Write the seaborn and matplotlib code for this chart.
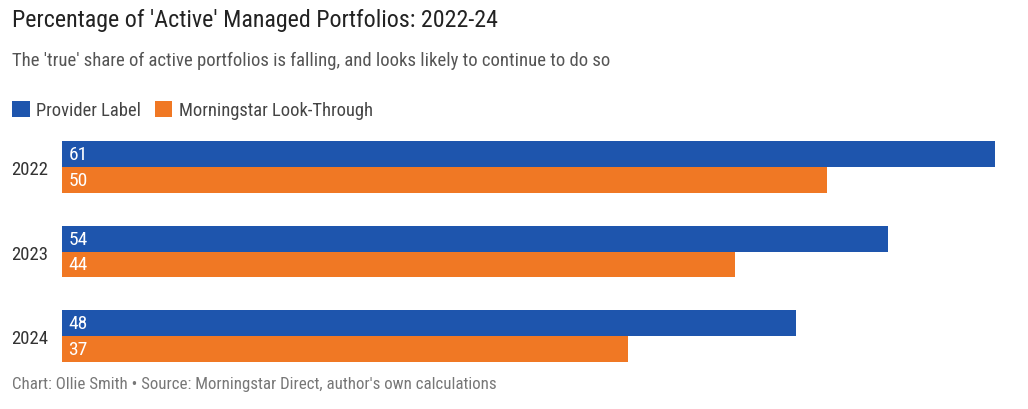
import pandas as pd
import matplotlib.pyplot as plt
import seaborn as sns

# Chart values
years = ['2022', '2023', '2024']
provider_label = [61, 54, 48]
look_through = [50, 44, 37]
series_names = ['Provider Label', 'Morningstar Look-Through']
colors = ['#1E55AD', '#F07824']

df = pd.DataFrame({
    'year': years * 2,
    'share': provider_label + look_through,
    'series': [series_names[0]] * 3 + [series_names[1]] * 3,
})

sns.set_style('white')
plt.rcParams['font.family'] = ['Roboto Condensed', 'DejaVu Sans']
plt.rcParams['font.stretch'] = 'condensed'

fig = plt.figure(figsize=(10.28, 4.10), dpi=100)
ax = fig.add_axes([62 / 1028, 1 - 379 / 410, (995 - 62) / 1028, (379 - 126) / 410])

sns.barplot(data=df, y='year', x='share', hue='series', palette=colors,
            orient='h', width=0.615, saturation=1, linewidth=0, ax=ax)

ax.set_xlim(0, max(provider_label))
ax.set_ylim(2.5, -0.5)
ax.set_xlabel('')
ax.set_ylabel('')
ax.set_xticks([])
sns.despine(ax=ax, left=True, bottom=True)
ax.tick_params(axis='y', length=0, pad=10, labelsize=13.5, labelcolor='#333333')

# Value labels inside each bar, at its left end
for container in ax.containers:
    for p in container:
        ax.annotate(f"{p.get_width():.0f}", xy=(p.get_x(), p.get_y() + p.get_height() / 2),
                    xytext=(4.5, 0), textcoords='offset points', ha='left', va='center',
                    color='white', fontsize=14)

handles, labels = ax.get_legend_handles_labels()
ax.legend_.remove()
fig.legend(handles, labels, loc='center left', bbox_to_anchor=(12 / 1028, 1 - 111 / 410),
           ncol=2, frameon=False, fontsize=13.3, handlelength=0.95, handleheight=0.95,
           handletextpad=0.35, columnspacing=0.75, borderpad=0, borderaxespad=0,
           labelcolor='#444444')

fig.text(12 / 1028, 1 - 21 / 410, "Percentage of 'Active' Managed Portfolios: 2022-24",
         fontsize=17.3, color='#222222', va='center', ha='left')
fig.text(12 / 1028, 1 - 61 / 410,
         "The 'true' share of active portfolios is falling, and looks likely to continue to do so",
         fontsize=13.5, color='#555555', va='center', ha='left')
fig.text(12 / 1028, 1 - 385 / 410,
         "Chart: Ollie Smith \u2022 Source: Morningstar Direct, author's own calculations",
         fontsize=12.2, color='#777777', va='center', ha='left')

fig.savefig('out.png', dpi=100, facecolor='white')
